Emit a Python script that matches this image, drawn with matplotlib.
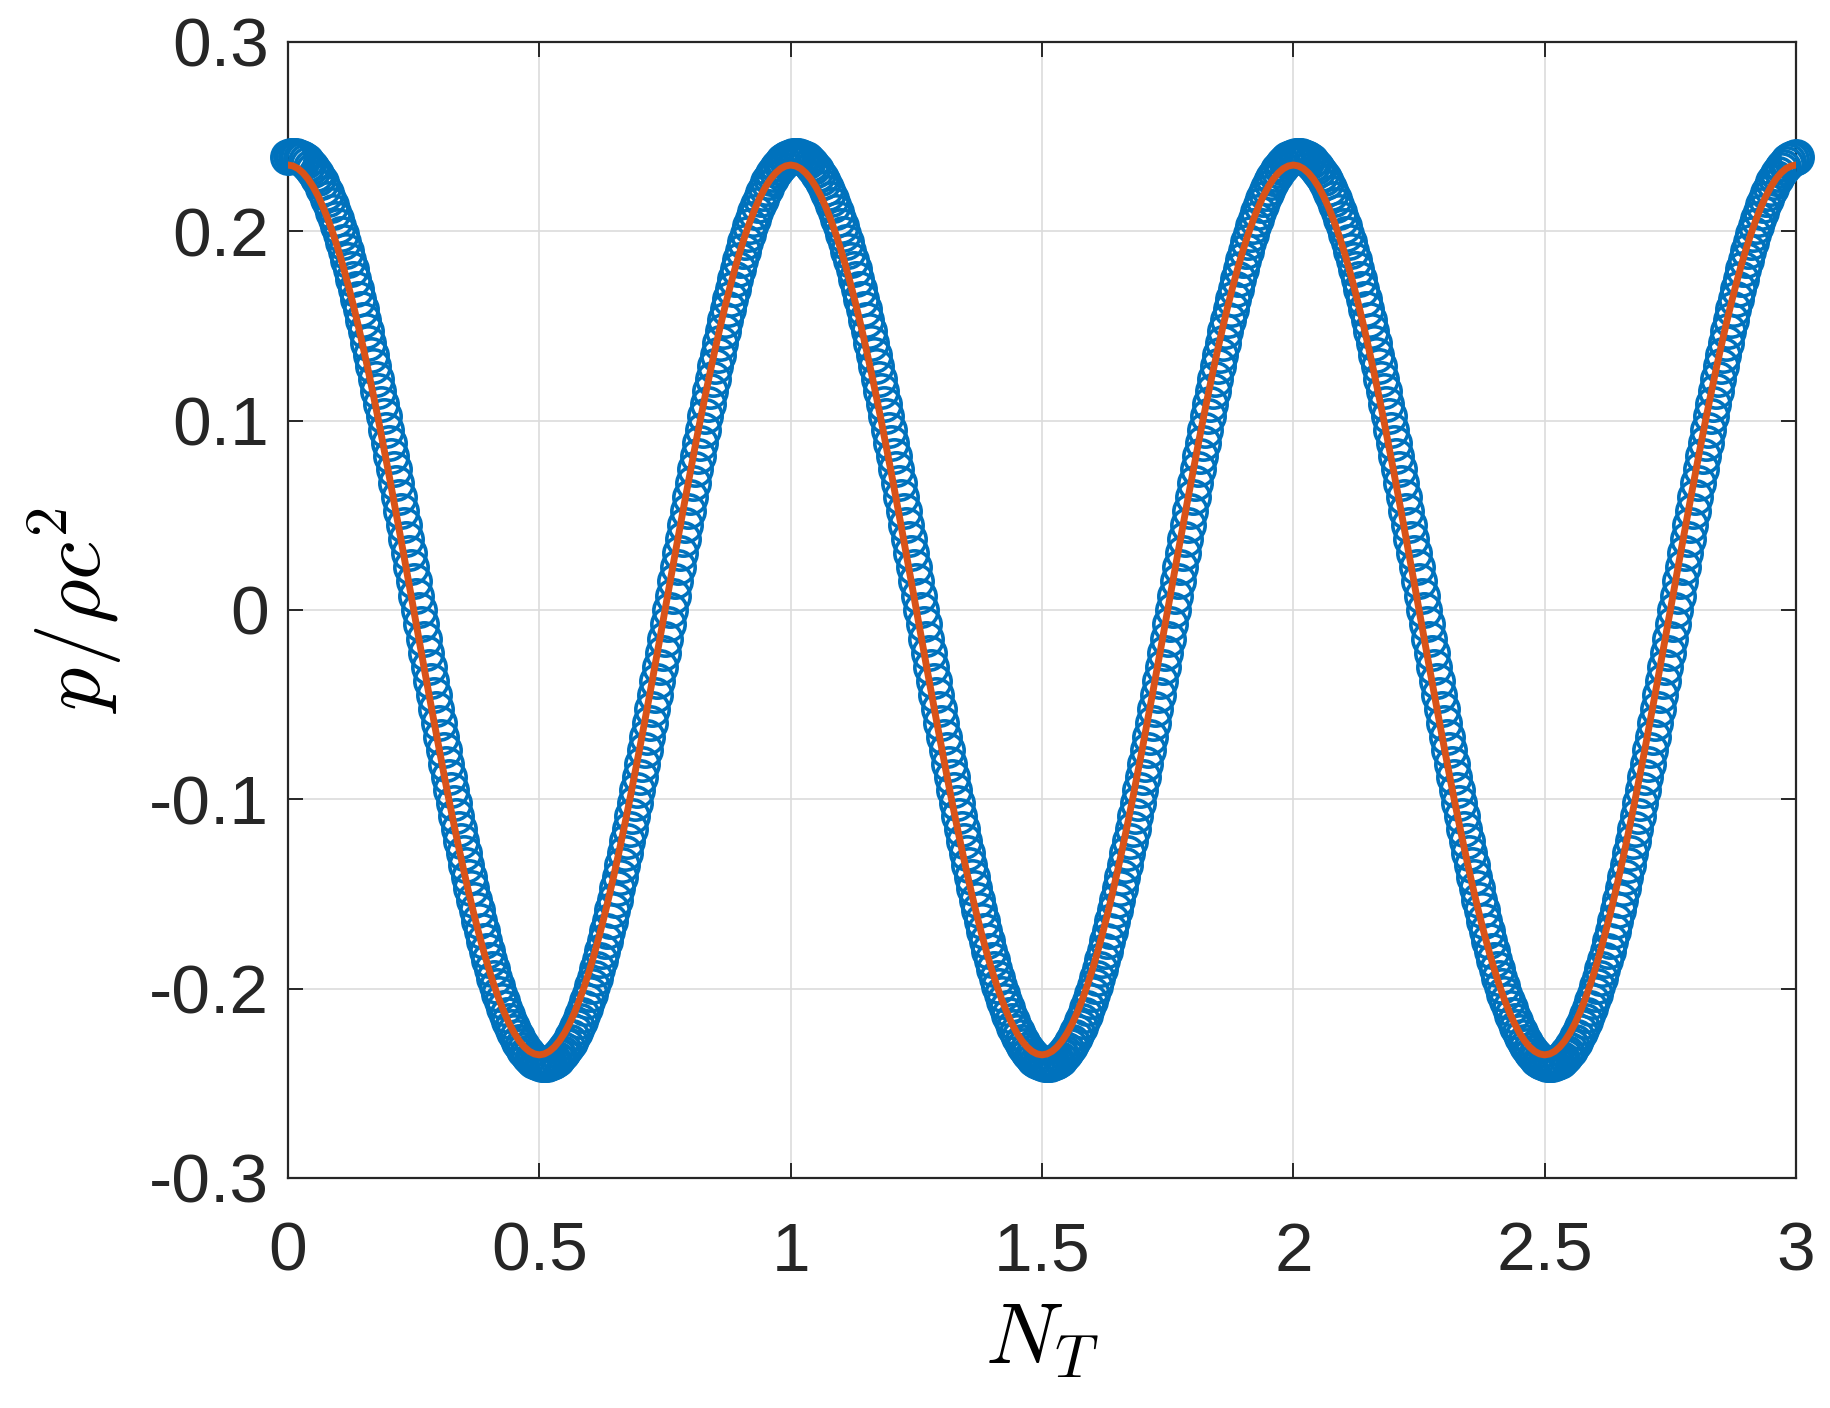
import numpy as np
import matplotlib
matplotlib.use("Agg")
import matplotlib.pyplot as plt


# ==========================================
# DATA
# ==========================================

# simulated pressure, open circles, sampled every 0.005 N_T
p_sim = [
    0.2395, 0.2399,
    # period 1
    0.2400, 0.2399, 0.2395, 0.2389, 0.2381, 0.2370, 0.2357, 0.2342, 0.2325, 0.2305,
    0.2283, 0.2258, 0.2231, 0.2203, 0.2172, 0.2138, 0.2103, 0.2066, 0.2026, 0.1985,
    0.1942, 0.1896, 0.1849, 0.1800, 0.1750, 0.1697, 0.1643, 0.1587, 0.1530, 0.1471,
    0.1411, 0.1349, 0.1286, 0.1222, 0.1156, 0.1090, 0.1022, 0.0953, 0.0883, 0.0813,
    0.0742, 0.0670, 0.0597, 0.0524, 0.0450, 0.0375, 0.0301, 0.0226, 0.0151, 0.0075,
    0.0000,
    -0.0075, -0.0151, -0.0226, -0.0301, -0.0375, -0.0450, -0.0524, -0.0597, -0.0670, -0.0742,
    -0.0813, -0.0883, -0.0953, -0.1022, -0.1090, -0.1156, -0.1222, -0.1286, -0.1349, -0.1411,
    -0.1471, -0.1530, -0.1587, -0.1643, -0.1697, -0.1750, -0.1800, -0.1849, -0.1896, -0.1942,
    -0.1985, -0.2026, -0.2066, -0.2103, -0.2138, -0.2172, -0.2203, -0.2231, -0.2258, -0.2283,
    -0.2305, -0.2325, -0.2342, -0.2357, -0.2370, -0.2381, -0.2389, -0.2395, -0.2399, -0.2400,
    -0.2399, -0.2395, -0.2389, -0.2381, -0.2370, -0.2357, -0.2342, -0.2325, -0.2305, -0.2283,
    -0.2258, -0.2231, -0.2203, -0.2172, -0.2138, -0.2103, -0.2066, -0.2026, -0.1985, -0.1942,
    -0.1896, -0.1849, -0.1800, -0.1750, -0.1697, -0.1643, -0.1587, -0.1530, -0.1471, -0.1411,
    -0.1349, -0.1286, -0.1222, -0.1156, -0.1090, -0.1022, -0.0953, -0.0883, -0.0813, -0.0742,
    -0.0670, -0.0597, -0.0524, -0.0450, -0.0375, -0.0301, -0.0226, -0.0151, -0.0075, 0.0000,
    0.0075, 0.0151, 0.0226, 0.0301, 0.0375, 0.0450, 0.0524, 0.0597, 0.0670, 0.0742,
    0.0813, 0.0883, 0.0953, 0.1022, 0.1090, 0.1156, 0.1222, 0.1286, 0.1349, 0.1411,
    0.1471, 0.1530, 0.1587, 0.1643, 0.1697, 0.1750, 0.1800, 0.1849, 0.1896, 0.1942,
    0.1985, 0.2026, 0.2066, 0.2103, 0.2138, 0.2172, 0.2203, 0.2231, 0.2258, 0.2283,
    0.2305, 0.2325, 0.2342, 0.2357, 0.2370, 0.2381, 0.2389, 0.2395, 0.2399,
    # period 2
    0.2400, 0.2399, 0.2395, 0.2389, 0.2381, 0.2370, 0.2357, 0.2342, 0.2325, 0.2305,
    0.2283, 0.2258, 0.2231, 0.2203, 0.2172, 0.2138, 0.2103, 0.2066, 0.2026, 0.1985,
    0.1942, 0.1896, 0.1849, 0.1800, 0.1750, 0.1697, 0.1643, 0.1587, 0.1530, 0.1471,
    0.1411, 0.1349, 0.1286, 0.1222, 0.1156, 0.1090, 0.1022, 0.0953, 0.0883, 0.0813,
    0.0742, 0.0670, 0.0597, 0.0524, 0.0450, 0.0375, 0.0301, 0.0226, 0.0151, 0.0075,
    0.0000,
    -0.0075, -0.0151, -0.0226, -0.0301, -0.0375, -0.0450, -0.0524, -0.0597, -0.0670, -0.0742,
    -0.0813, -0.0883, -0.0953, -0.1022, -0.1090, -0.1156, -0.1222, -0.1286, -0.1349, -0.1411,
    -0.1471, -0.1530, -0.1587, -0.1643, -0.1697, -0.1750, -0.1800, -0.1849, -0.1896, -0.1942,
    -0.1985, -0.2026, -0.2066, -0.2103, -0.2138, -0.2172, -0.2203, -0.2231, -0.2258, -0.2283,
    -0.2305, -0.2325, -0.2342, -0.2357, -0.2370, -0.2381, -0.2389, -0.2395, -0.2399, -0.2400,
    -0.2399, -0.2395, -0.2389, -0.2381, -0.2370, -0.2357, -0.2342, -0.2325, -0.2305, -0.2283,
    -0.2258, -0.2231, -0.2203, -0.2172, -0.2138, -0.2103, -0.2066, -0.2026, -0.1985, -0.1942,
    -0.1896, -0.1849, -0.1800, -0.1750, -0.1697, -0.1643, -0.1587, -0.1530, -0.1471, -0.1411,
    -0.1349, -0.1286, -0.1222, -0.1156, -0.1090, -0.1022, -0.0953, -0.0883, -0.0813, -0.0742,
    -0.0670, -0.0597, -0.0524, -0.0450, -0.0375, -0.0301, -0.0226, -0.0151, -0.0075, 0.0000,
    0.0075, 0.0151, 0.0226, 0.0301, 0.0375, 0.0450, 0.0524, 0.0597, 0.0670, 0.0742,
    0.0813, 0.0883, 0.0953, 0.1022, 0.1090, 0.1156, 0.1222, 0.1286, 0.1349, 0.1411,
    0.1471, 0.1530, 0.1587, 0.1643, 0.1697, 0.1750, 0.1800, 0.1849, 0.1896, 0.1942,
    0.1985, 0.2026, 0.2066, 0.2103, 0.2138, 0.2172, 0.2203, 0.2231, 0.2258, 0.2283,
    0.2305, 0.2325, 0.2342, 0.2357, 0.2370, 0.2381, 0.2389, 0.2395, 0.2399,
    # period 3
    0.2400, 0.2399, 0.2395, 0.2389, 0.2381, 0.2370, 0.2357, 0.2342, 0.2325, 0.2305,
    0.2283, 0.2258, 0.2231, 0.2203, 0.2172, 0.2138, 0.2103, 0.2066, 0.2026, 0.1985,
    0.1942, 0.1896, 0.1849, 0.1800, 0.1750, 0.1697, 0.1643, 0.1587, 0.1530, 0.1471,
    0.1411, 0.1349, 0.1286, 0.1222, 0.1156, 0.1090, 0.1022, 0.0953, 0.0883, 0.0813,
    0.0742, 0.0670, 0.0597, 0.0524, 0.0450, 0.0375, 0.0301, 0.0226, 0.0151, 0.0075,
    0.0000,
    -0.0075, -0.0151, -0.0226, -0.0301, -0.0375, -0.0450, -0.0524, -0.0597, -0.0670, -0.0742,
    -0.0813, -0.0883, -0.0953, -0.1022, -0.1090, -0.1156, -0.1222, -0.1286, -0.1349, -0.1411,
    -0.1471, -0.1530, -0.1587, -0.1643, -0.1697, -0.1750, -0.1800, -0.1849, -0.1896, -0.1942,
    -0.1985, -0.2026, -0.2066, -0.2103, -0.2138, -0.2172, -0.2203, -0.2231, -0.2258, -0.2283,
    -0.2305, -0.2325, -0.2342, -0.2357, -0.2370, -0.2381, -0.2389, -0.2395, -0.2399, -0.2400,
    -0.2399, -0.2395, -0.2389, -0.2381, -0.2370, -0.2357, -0.2342, -0.2325, -0.2305, -0.2283,
    -0.2258, -0.2231, -0.2203, -0.2172, -0.2138, -0.2103, -0.2066, -0.2026, -0.1985, -0.1942,
    -0.1896, -0.1849, -0.1800, -0.1750, -0.1697, -0.1643, -0.1587, -0.1530, -0.1471, -0.1411,
    -0.1349, -0.1286, -0.1222, -0.1156, -0.1090, -0.1022, -0.0953, -0.0883, -0.0813, -0.0742,
    -0.0670, -0.0597, -0.0524, -0.0450, -0.0375, -0.0301, -0.0226, -0.0151, -0.0075, 0.0000,
    0.0075, 0.0151, 0.0226, 0.0301, 0.0375, 0.0450, 0.0524, 0.0597, 0.0670, 0.0742,
    0.0813, 0.0883, 0.0953, 0.1022, 0.1090, 0.1156, 0.1222, 0.1286, 0.1349, 0.1411,
    0.1471, 0.1530, 0.1587, 0.1643, 0.1697, 0.1750, 0.1800, 0.1849, 0.1896, 0.1942,
    0.1985, 0.2026, 0.2066, 0.2103, 0.2138, 0.2172, 0.2203, 0.2231, 0.2258, 0.2283,
    0.2305, 0.2325, 0.2342, 0.2357, 0.2370, 0.2381, 0.2389, 0.2395,
]

# analytical pressure, solid line, sampled every 0.01 N_T
p_ref = [
    # period 1
    0.2350, 0.2345, 0.2331, 0.2308, 0.2276, 0.2235, 0.2185, 0.2126, 0.2059, 0.1984,
    0.1901, 0.1811, 0.1713, 0.1609, 0.1498, 0.1381, 0.1259, 0.1132, 0.1001, 0.0865,
    0.0726, 0.0584, 0.0440, 0.0295, 0.0148, 0.0000,
    -0.0148, -0.0295, -0.0440, -0.0584, -0.0726, -0.0865, -0.1001, -0.1132, -0.1259, -0.1381,
    -0.1498, -0.1609, -0.1713, -0.1811, -0.1901, -0.1984, -0.2059, -0.2126, -0.2185, -0.2235,
    -0.2276, -0.2308, -0.2331, -0.2345, -0.2350,
    -0.2345, -0.2331, -0.2308, -0.2276, -0.2235, -0.2185, -0.2126, -0.2059, -0.1984, -0.1901,
    -0.1811, -0.1713, -0.1609, -0.1498, -0.1381, -0.1259, -0.1132, -0.1001, -0.0865, -0.0726,
    -0.0584, -0.0440, -0.0295, -0.0148, 0.0000,
    0.0148, 0.0295, 0.0440, 0.0584, 0.0726, 0.0865, 0.1001, 0.1132, 0.1259, 0.1381,
    0.1498, 0.1609, 0.1713, 0.1811, 0.1901, 0.1984, 0.2059, 0.2126, 0.2185, 0.2235,
    0.2276, 0.2308, 0.2331, 0.2345,
    # period 2
    0.2350, 0.2345, 0.2331, 0.2308, 0.2276, 0.2235, 0.2185, 0.2126, 0.2059, 0.1984,
    0.1901, 0.1811, 0.1713, 0.1609, 0.1498, 0.1381, 0.1259, 0.1132, 0.1001, 0.0865,
    0.0726, 0.0584, 0.0440, 0.0295, 0.0148, 0.0000,
    -0.0148, -0.0295, -0.0440, -0.0584, -0.0726, -0.0865, -0.1001, -0.1132, -0.1259, -0.1381,
    -0.1498, -0.1609, -0.1713, -0.1811, -0.1901, -0.1984, -0.2059, -0.2126, -0.2185, -0.2235,
    -0.2276, -0.2308, -0.2331, -0.2345, -0.2350,
    -0.2345, -0.2331, -0.2308, -0.2276, -0.2235, -0.2185, -0.2126, -0.2059, -0.1984, -0.1901,
    -0.1811, -0.1713, -0.1609, -0.1498, -0.1381, -0.1259, -0.1132, -0.1001, -0.0865, -0.0726,
    -0.0584, -0.0440, -0.0295, -0.0148, 0.0000,
    0.0148, 0.0295, 0.0440, 0.0584, 0.0726, 0.0865, 0.1001, 0.1132, 0.1259, 0.1381,
    0.1498, 0.1609, 0.1713, 0.1811, 0.1901, 0.1984, 0.2059, 0.2126, 0.2185, 0.2235,
    0.2276, 0.2308, 0.2331, 0.2345,
    # period 3
    0.2350, 0.2345, 0.2331, 0.2308, 0.2276, 0.2235, 0.2185, 0.2126, 0.2059, 0.1984,
    0.1901, 0.1811, 0.1713, 0.1609, 0.1498, 0.1381, 0.1259, 0.1132, 0.1001, 0.0865,
    0.0726, 0.0584, 0.0440, 0.0295, 0.0148, 0.0000,
    -0.0148, -0.0295, -0.0440, -0.0584, -0.0726, -0.0865, -0.1001, -0.1132, -0.1259, -0.1381,
    -0.1498, -0.1609, -0.1713, -0.1811, -0.1901, -0.1984, -0.2059, -0.2126, -0.2185, -0.2235,
    -0.2276, -0.2308, -0.2331, -0.2345, -0.2350,
    -0.2345, -0.2331, -0.2308, -0.2276, -0.2235, -0.2185, -0.2126, -0.2059, -0.1984, -0.1901,
    -0.1811, -0.1713, -0.1609, -0.1498, -0.1381, -0.1259, -0.1132, -0.1001, -0.0865, -0.0726,
    -0.0584, -0.0440, -0.0295, -0.0148, 0.0000,
    0.0148, 0.0295, 0.0440, 0.0584, 0.0726, 0.0865, 0.1001, 0.1132, 0.1259, 0.1381,
    0.1498, 0.1609, 0.1713, 0.1811, 0.1901, 0.1984, 0.2059, 0.2126, 0.2185, 0.2235,
    0.2276, 0.2308, 0.2331, 0.2345,
    0.2350,
]

x_ticks = [0, 0.5, 1, 1.5, 2, 2.5, 3]
x_tick_labels = ["0", "0.5", "1", "1.5", "2", "2.5", "3"]
y_ticks = [-0.3, -0.2, -0.1, 0, 0.1, 0.2, 0.3]
y_tick_labels = ["-0.3", "-0.2", "-0.1", "0", "0.1", "0.2", "0.3"]

# sample grids (N_T)
nt_sim = np.linspace(0, 3, len(p_sim))
nt_ref = np.linspace(0, 3, len(p_ref))


# ==========================================
# PLOT
# ==========================================

plt.rcParams["mathtext.fontset"] = "cm"
plt.rcParams["font.family"] = ["Liberation Sans", "DejaVu Sans"]

fig = plt.figure(figsize=(18.31, 14.08), dpi=100)
ax = fig.add_axes([0.1573, 0.1634, 0.8236, 0.8068])

ax.plot(
    nt_sim, p_sim,
    linestyle="none",
    marker="o",
    markersize=24,
    markerfacecolor="none",
    markeredgecolor="#0072BD",
    markeredgewidth=2.6,
    clip_on=False,
    zorder=3
)

ax.plot(
    nt_ref, p_ref,
    color="#D95319",
    linewidth=5,
    zorder=4
)

ax.set_xlim(0, 3)
ax.set_ylim(-0.3, 0.3)

ax.set_xticks(x_ticks)
ax.set_xticklabels(x_tick_labels)
ax.set_yticks(y_ticks)
ax.set_yticklabels(y_tick_labels)

ax.grid(True, color="#dcdcdc", linewidth=1.2)
ax.set_axisbelow(True)

for side in ax.spines.values():
    side.set_color("#262626")
    side.set_linewidth(1.6)

ax.tick_params(
    direction="in",
    length=11,
    width=1.4,
    color="#262626",
    labelsize=50,
    labelcolor="#262626",
    top=True,
    right=True
)
ax.tick_params(axis="x", pad=31)
ax.tick_params(axis="y", pad=14)

ax.set_xlabel(r"$N_T$", fontsize=62, labelpad=12)
ax.set_ylabel(r"$p/\rho c^2$", fontsize=62, labelpad=18)

plt.savefig("out.png", dpi=100)
plt.close()

print("Saved: out.png")
